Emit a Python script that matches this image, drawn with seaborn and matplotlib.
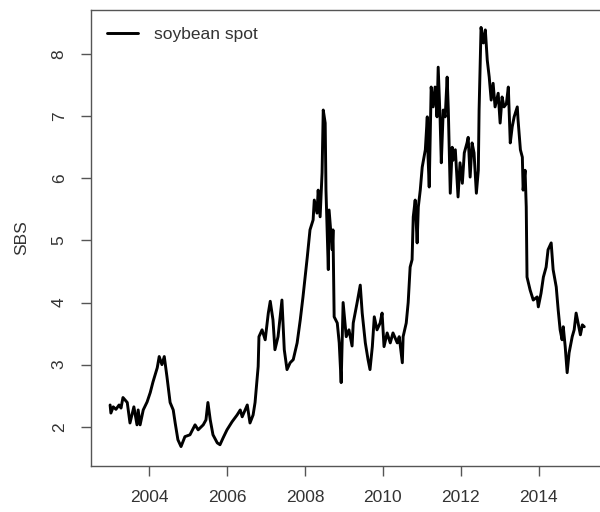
import matplotlib
matplotlib.use("Agg")
import matplotlib.pyplot as plt
import seaborn as sns
import pandas as pd

# Soybean spot price (SBS), time in decimal years
years = [
    2003.00, 2003.02, 2003.08, 2003.15, 2003.23, 2003.28, 2003.33, 2003.44, 2003.51, 2003.61,
    2003.69, 2003.72, 2003.77, 2003.85, 2003.95, 2004.03, 2004.10, 2004.21, 2004.26, 2004.33,
    2004.39, 2004.46, 2004.54, 2004.62, 2004.67, 2004.74, 2004.82, 2004.92, 2005.05, 2005.18,
    2005.26, 2005.39, 2005.46, 2005.51, 2005.57, 2005.64, 2005.75, 2005.82, 2005.90, 2006.00,
    2006.13, 2006.26, 2006.34, 2006.39, 2006.52, 2006.59, 2006.67, 2006.72, 2006.80, 2006.82,
    2006.90, 2006.98, 2007.06, 2007.11, 2007.18, 2007.23, 2007.31, 2007.41, 2007.47, 2007.54,
    2007.62, 2007.70, 2007.80, 2007.88, 2007.95, 2008.06, 2008.13, 2008.21, 2008.24, 2008.31,
    2008.34, 2008.39, 2008.44, 2008.47, 2008.52, 2008.54, 2008.60, 2008.62, 2008.70, 2008.72,
    2008.75, 2008.83, 2008.88, 2008.93, 2008.98, 2009.06, 2009.13, 2009.21, 2009.24, 2009.34,
    2009.42, 2009.47, 2009.55, 2009.62, 2009.67, 2009.73, 2009.78, 2009.85, 2009.93, 2009.98,
    2010.03, 2010.11, 2010.19, 2010.26, 2010.37, 2010.42, 2010.50, 2010.52, 2010.60, 2010.65,
    2010.70, 2010.75, 2010.78, 2010.83, 2010.88, 2010.91, 2010.96, 2011.01, 2011.09, 2011.14,
    2011.16, 2011.19, 2011.24, 2011.29, 2011.34, 2011.39, 2011.42, 2011.47, 2011.50, 2011.55,
    2011.60, 2011.65, 2011.68, 2011.73, 2011.78, 2011.80, 2011.86, 2011.91, 2011.93, 2011.98,
    2012.04, 2012.09, 2012.16, 2012.19, 2012.24, 2012.29, 2012.34, 2012.40, 2012.45, 2012.47,
    2012.52, 2012.58, 2012.63, 2012.68, 2012.73, 2012.78, 2012.83, 2012.88, 2012.96, 2013.01,
    2013.06, 2013.11, 2013.17, 2013.22, 2013.27, 2013.32, 2013.37, 2013.45, 2013.47, 2013.53,
    2013.58, 2013.60, 2013.65, 2013.68, 2013.70, 2013.78, 2013.86, 2013.96, 2013.99, 2014.06,
    2014.12, 2014.19, 2014.24, 2014.32, 2014.37, 2014.45, 2014.50, 2014.55, 2014.60, 2014.63,
    2014.68, 2014.73, 2014.78, 2014.86, 2014.91, 2014.96, 2015.01, 2015.07, 2015.12, 2015.17,
]
sbs = [
    2.35, 2.22, 2.32, 2.28, 2.35, 2.30, 2.47, 2.39, 2.06, 2.32,
    2.03, 2.27, 2.03, 2.27, 2.40, 2.55, 2.72, 2.95, 3.13, 3.00,
    3.13, 2.80, 2.39, 2.27, 2.06, 1.79, 1.68, 1.84, 1.87, 2.03,
    1.95, 2.03, 2.11, 2.39, 2.11, 1.87, 1.74, 1.71, 1.82, 1.95,
    2.08, 2.19, 2.27, 2.16, 2.35, 2.06, 2.19, 2.39, 2.97, 3.45,
    3.56, 3.40, 3.83, 4.02, 3.72, 3.24, 3.45, 4.04, 3.24, 2.92,
    3.03, 3.08, 3.35, 3.72, 4.09, 4.73, 5.17, 5.33, 5.65, 5.44,
    5.81, 5.38, 6.09, 7.10, 6.89, 5.81, 4.53, 5.49, 4.85, 5.17,
    3.77, 3.67, 3.35, 2.71, 4.00, 3.45, 3.56, 3.30, 3.67, 4.00,
    4.28, 3.83, 3.35, 3.08, 2.92, 3.29, 3.77, 3.56, 3.67, 3.83,
    3.29, 3.51, 3.35, 3.51, 3.35, 3.45, 3.03, 3.45, 3.67, 4.00,
    4.57, 4.69, 5.38, 5.65, 4.96, 5.54, 5.81, 6.18, 6.46, 6.99,
    6.34, 5.86, 7.47, 7.15, 7.47, 6.99, 7.79, 6.94, 6.25, 7.10,
    6.99, 7.63, 7.10, 5.76, 6.50, 6.29, 6.46, 5.92, 5.70, 6.25,
    5.92, 6.41, 6.57, 6.66, 6.02, 6.57, 6.41, 5.76, 6.13, 7.10,
    8.43, 8.18, 8.39, 7.90, 7.63, 7.26, 7.53, 7.15, 7.37, 6.89,
    7.31, 7.15, 7.20, 7.47, 6.57, 6.83, 6.99, 7.15, 6.94, 6.46,
    6.34, 5.81, 6.13, 5.54, 4.41, 4.20, 4.04, 4.09, 3.93, 4.15,
    4.41, 4.57, 4.85, 4.96, 4.53, 4.25, 3.88, 3.56, 3.40, 3.61,
    3.29, 2.87, 3.19, 3.45, 3.56, 3.83, 3.67, 3.48, 3.64, 3.61,
]
x_ticks = [2004, 2006, 2008, 2010, 2012, 2014]
y_ticks = [2, 3, 4, 5, 6, 7, 8]
series_name = "soybean spot"

df = pd.DataFrame({"year": years, "SBS": sbs})

sns.set_style("white")
plt.rcParams["font.family"] = ["Liberation Sans", "DejaVu Sans"]

fig = plt.figure(figsize=(6.0, 5.12), dpi=100)
ax = fig.add_axes([0.1517, 0.0898, 0.852, 0.8906])

sns.lineplot(data=df, x="year", y="SBS", ax=ax, color="black",
             linewidth=2.1, estimator=None, sort=False, label=series_name)

ax.set_xlim(2002.51, 2015.63)
ax.set_ylim(1.367, 8.71)
ax.set_xticks(x_ticks)
ax.set_yticks(y_ticks)
ax.set_xticklabels([str(t) for t in x_ticks])
ax.set_yticklabels([str(t) for t in y_ticks], rotation=90, va="center")

text_color = "#333333"
for side in ["left", "bottom", "top", "right"]:
    ax.spines[side].set_visible(True)
    ax.spines[side].set_color("#555555")
    ax.spines[side].set_linewidth(1.0)

ax.tick_params(axis="both", which="major", direction="out", length=7.5,
               width=1.0, color="#555555", labelcolor=text_color,
               labelsize=12.5, left=True, bottom=True)
ax.tick_params(axis="x", pad=9.5)
ax.tick_params(axis="y", pad=10)

ax.set_xlabel("")
ax.set_ylabel("SBS", fontsize=12.5, color=text_color, labelpad=16)

leg = ax.legend(loc="upper left", bbox_to_anchor=(0.031, 0.963), frameon=False,
                fontsize=12.5, handlelength=1.8, handletextpad=0.9,
                borderpad=0, borderaxespad=0)
for t in leg.get_texts():
    t.set_color(text_color)

fig.savefig("out.png", dpi=100, facecolor="white")
